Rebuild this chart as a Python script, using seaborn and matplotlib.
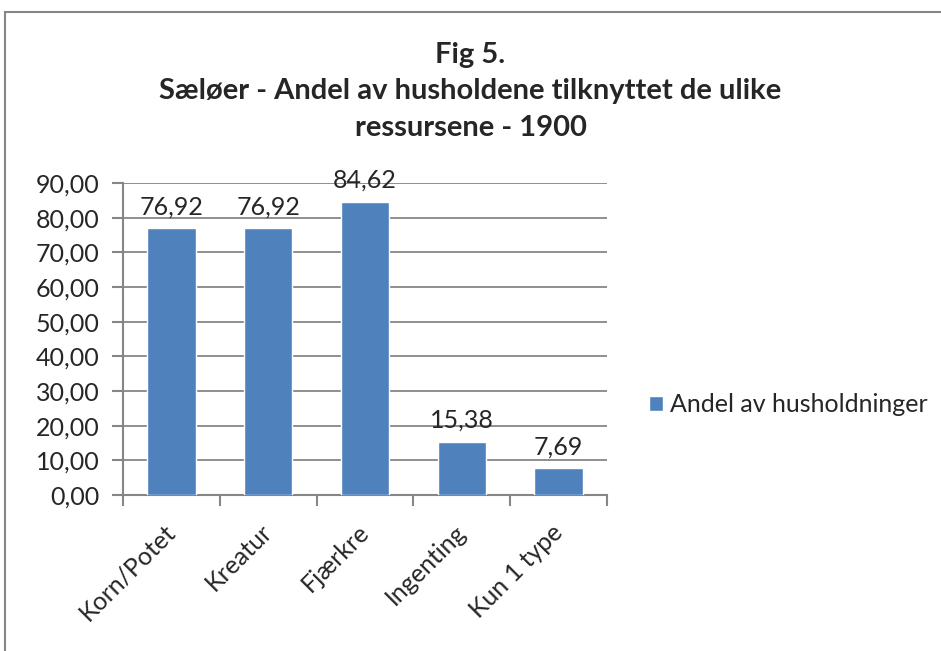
# Fig 5 - Sæløer: andel av husholdene per ressurs (1900)
import matplotlib
matplotlib.use("Agg")
import matplotlib.pyplot as plt
import seaborn as sns
import pandas as pd
from matplotlib.patches import Rectangle
from matplotlib.ticker import FuncFormatter

# --------------------------------------------
# Data
# --------------------------------------------
categories = ["Korn/Potet", "Kreatur", "Fjærkre", "Ingenting", "Kun 1 type"]
values = [76.92, 76.92, 84.62, 15.38, 7.69]
series_name = "Andel av husholdninger"
title = "Fig 5.\nSæløer - Andel av husholdene tilknyttet de ulike\nressursene - 1900"
y_ticks = [0, 10, 20, 30, 40, 50, 60, 70, 80, 90]

df = pd.DataFrame({"kategori": categories, "andel": values})

# --------------------------------------------
# Style
# --------------------------------------------
sns.set_theme(style="white")
plt.rcParams["font.family"] = ["Lato", "DejaVu Sans"]

bar_color = "#4F81BD"
grey = "#868686"
fs = 18

W, H = 941, 651
fig = plt.figure(figsize=(W / 100, H / 100), dpi=100)
ax = fig.add_axes([123 / W, 1 - 495 / H, (607 - 123) / W, (495 - 183) / H])

sns.barplot(data=df, x="kategori", y="andel", color=bar_color,
            width=0.5, saturation=1, label=series_name, ax=ax, zorder=3)

# value labels with comma decimals
for cont in ax.containers:
    ax.bar_label(cont, labels=[f"{v:.2f}".replace(".", ",") for v in values],
                 padding=7, fontsize=fs)

# axes
ax.set_xlim(-0.5, len(categories) - 0.5)
ax.set_ylim(0, 90)
ax.set_yticks(y_ticks)
ax.yaxis.set_major_formatter(FuncFormatter(lambda v, p: f"{v:.2f}".replace(".", ",")))
ax.set_xlabel("")
ax.set_ylabel("")

ax.set_xticks(range(len(categories)))
ax.set_xticklabels(categories, rotation=45, ha="right", va="center",
                   rotation_mode="anchor")
ax.set_xticks([i - 0.5 for i in range(len(categories) + 1)], minor=True)
ax.tick_params(axis="x", which="major", length=0, pad=24, labelsize=fs)
ax.tick_params(axis="x", which="minor", length=8, width=1.5, color=grey, bottom=True)
ax.tick_params(axis="y", length=8, width=1.5, color=grey, left=True, labelsize=fs, pad=9)

ax.grid(axis="y", color=grey, linewidth=1.3, zorder=0)
ax.set_axisbelow(True)
for side in ["top", "right"]:
    ax.spines[side].set_visible(False)
for side in ["left", "bottom"]:
    ax.spines[side].set_color(grey)
    ax.spines[side].set_linewidth(1.5)

# title
fig.text(0.5, 1 - 91 / H, title, ha="center", va="center",
         fontsize=21, fontweight="bold", linespacing=1.5)

# legend
ax.legend(loc="center left", bbox_to_anchor=(649 / W, 1 - 405 / H),
          bbox_transform=fig.transFigure, frameon=False, fontsize=fs,
          borderpad=0, borderaxespad=0,
          handlelength=0.56, handleheight=0.56, handletextpad=0.3)

# chart border
fig.patches.append(Rectangle((5 / W, -0.1), 1.2, 1 - 12 / H + 0.1,
                             transform=fig.transFigure, fill=False,
                             edgecolor=grey, linewidth=1.5))

fig.savefig("out.png", dpi=100)
